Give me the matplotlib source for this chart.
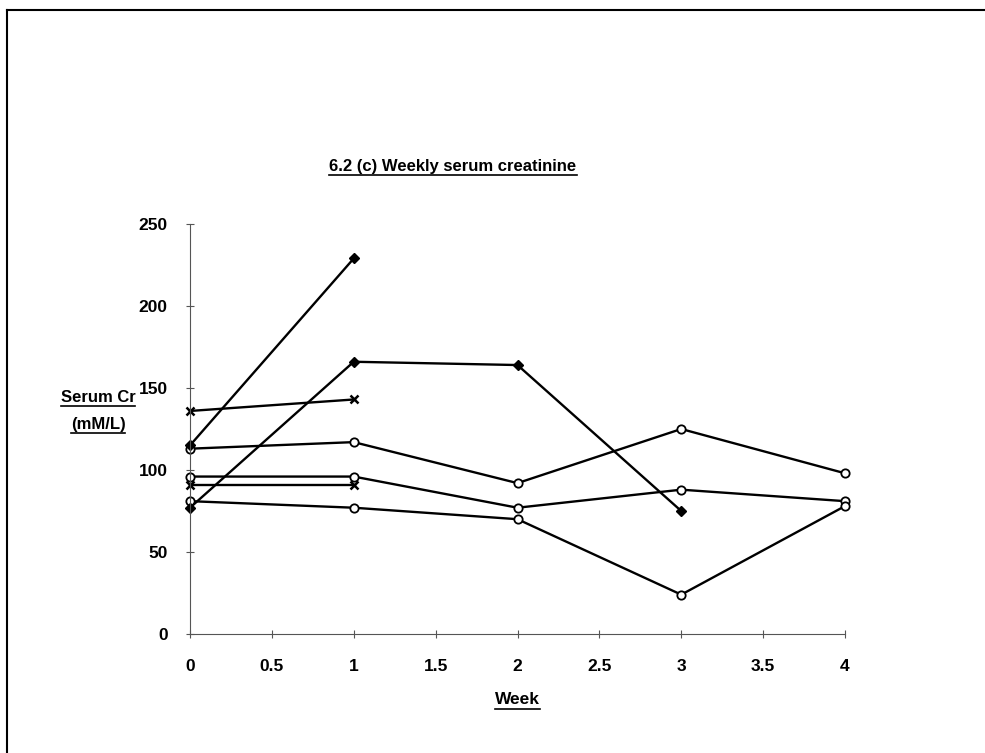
import matplotlib
matplotlib.use('Agg')
import matplotlib.pyplot as plt
from matplotlib.lines import Line2D

plt.rcParams['font.family'] = ['Liberation Sans', 'DejaVu Sans']

weeks = [0, 1, 2, 3, 4]

# patients with filled markers
filled_a = [115, 229]
filled_b = [77, 166, 164, 75]
# patients with open circles
open_a = [113, 117, 92, 125, 98]
open_b = [96, 96, 77, 88, 81]
open_c = [81, 77, 70, 24, 78]
# patients with crosses
cross_a = [136, 143]
cross_b = [91, 91]

x_ticks = [0, 0.5, 1, 1.5, 2, 2.5, 3, 3.5, 4]
x_labels = ['0', '0.5', '1', '1.5', '2', '2.5', '3', '3.5', '4']
y_ticks = [0, 50, 100, 150, 200, 250]

fig = plt.figure(figsize=(9.85, 7.53), dpi=100)
ax = fig.add_axes([190 / 985, 1 - 634 / 753, 655 / 985, 410 / 753])

line_kw = dict(color='black', lw=1.7, clip_on=False)
for vals in [open_a, open_b, open_c]:
    ax.plot(weeks[:len(vals)], vals, marker='o', ms=6, mfc='white',
            mec='black', mew=1.3, **line_kw)
for vals in [cross_a, cross_b]:
    ax.plot(weeks[:len(vals)], vals, marker='x', ms=6, mew=1.8, **line_kw)
for vals in [filled_a, filled_b]:
    ax.plot(weeks[:len(vals)], vals, marker='D', ms=5, mfc='black',
            mec='black', **line_kw)

ax.set_xlim(0, 4)
ax.set_ylim(0, 250)
ax.set_xticks(x_ticks)
ax.set_xticklabels(x_labels)
ax.set_yticks(y_ticks)
for side in ['top', 'right']:
    ax.spines[side].set_visible(False)
for side in ['left', 'bottom']:
    ax.spines[side].set_color('#555555')
    ax.spines[side].set_linewidth(0.8)
ax.tick_params(direction='inout', length=6, width=0.8, color='#555555',
               labelsize=12.5)
ax.tick_params(axis='x', pad=15)
ax.tick_params(axis='y', pad=13)
for lab in ax.get_xticklabels() + ax.get_yticklabels():
    lab.set_fontweight('bold')
ax.patch.set_alpha(0)

texts = [
    fig.text(453 / 985, 1 - 166 / 753, '6.2 (c) Weekly serum creatinine',
             ha='center', va='center', fontsize=12, fontweight='bold'),
    fig.text(98 / 985, 1 - 397 / 753, 'Serum Cr', ha='center', va='center',
             fontsize=12, fontweight='bold'),
    fig.text(98 / 985, 1 - 424 / 753, '(mM/L)', ha='center', va='center',
             fontsize=12, fontweight='bold'),
    fig.text(517 / 985, 1 - 700 / 753, 'Week', ha='center', va='center',
             fontsize=12.5, fontweight='bold'),
]

# underline the labels
fig.canvas.draw()
renderer = fig.canvas.get_renderer()
for t in texts:
    bb = t.get_window_extent(renderer).transformed(fig.transFigure.inverted())
    y = bb.y0 - 1.5 / 753
    fig.add_artist(Line2D([bb.x0, bb.x1], [y, y], color='black', lw=1.2,
                          transform=fig.transFigure))

# page frame from the scan
fig.add_artist(Line2D([7 / 985, 7 / 985], [0, 1 - 10 / 753], color='black',
                      lw=1.5, transform=fig.transFigure))
fig.add_artist(Line2D([7 / 985, 1], [1 - 10 / 753, 1 - 10 / 753],
                      color='black', lw=1.5, transform=fig.transFigure))

fig.savefig('out.png', dpi=100)
